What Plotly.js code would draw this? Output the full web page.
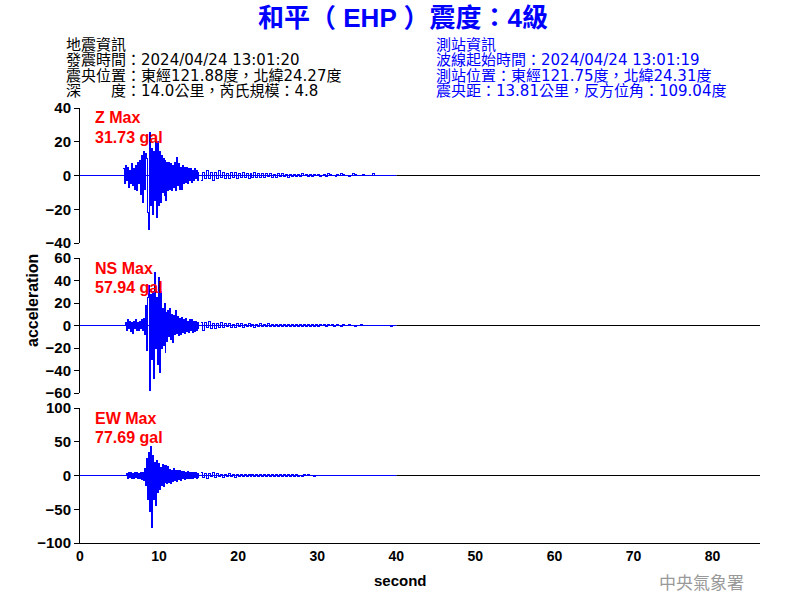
<!DOCTYPE html>
<html>
<head>
<meta charset="utf-8">
<script src="https://cdn.plot.ly/plotly-3.0.1.min.js"></script>
<style>
html,body{margin:0;padding:0;background:#fff;}
#chart{width:800px;height:600px;}
#chart .scatterlayer path.js-line{shape-rendering:crispEdges;}
</style>
</head>
<body>
<div id="chart"></div>
<script>
// ---- Data (gal) ----
const strongStart = 5.5, strongStep = 0.125;   // strong-motion part sampling
const codaStart = 15.25, codaStep = 0.25;      // coda part sampling
const recordEnd = 40;                           // end of recorded trace (s)

const zStrong = [4,-5,6,-3,5,-7,3,-5,7,-6,4,-8,6,-9,8,-5,9,-11,12,-16,14,-8,13,10,-22,-31.73,25.6,-18,16,-23,14,-15,22,-25,20,-18,14,-16,12,-10,10,-12,9,-15,8,-9,8,-8,7,-9,6,-7,8,-9,10.8,-6,7,-8,5,-8,6,-5,5,-4,5,-5,4,-3,4,-4,3,-3,4,-2,3,-3,2];
const zCoda = [-3,2,-2,3,-2,2,-3,2, -2,3,-1,2,-2,1,-2,2, -1,2,-2,1,-1,2,-1,1, -1.5,1,-1,1.5,-1,1,-1,1, -1,1,-0.5,1,-1,0.5,-1,1, -0.5,1,-0.5,0.5,-1,0.5,-0.5,0.5, -0.5,0.5,-0.5,1,0,0.5,-0.5,0.5, -0.5,0.5,0,0.5,-0.5,0,0.5,-0.5, 1,0.5,0,0,-0.5,0.5,0,1, 0.5,0,0,-0.5,0,1,0.5,0, 0,0,0.5,0,0,0,0,1, 0,0,0,0,0,0,0,0, 0,0,0,0];

const nsStrong = [0,0,3,-4,5,-3,4,-5,3,-7,4,-3,5,-4,3,-4,4,-3,5,-4,6,-8,18,-22,25,35.6,-57.94,28,-30,30,-47,46.8,-20,25,-35,43,-41.5,30,-20,15,-18,19.5,-24,12,-14,13,-10,15,-12,10,-15,9,-8,13,-7,8,-9,6,-8,7,-6,5,-7,6,-5,4,-6,5,-4,5,-6.5,4,-5,4,-4,3,-3];
const nsCoda = [3,-4,3,-2,4,-3,2,-3, 2,-2,3,-2,2,-1,2,-2, 1,-2,2,-1,1.5,-2,1,-1, 2,-1,1,-1.5,1,-1,1.5,-1, 1,-1,2,-1,1,-1,1,-1, 1,-0.5,1,-1,0.5,-1,1,-0.5, 1,-0.5,0.5,-1,1,-0.5,0.5,-0.5, 0.5,-0.5,1,-0.5,0.5,0,0.5,-0.5, 0.5,0,0.5,-0.5,0,0.5,0,-0.5, 0.5,0,0,0.5,0,0,-0.5,0, 0,0.5,0,0,0,0,0,0, 0,0,0,0,0,0,0,0, -1,0,0,0];

const ewStrong = [0,0,0,3,-5,4,-3,5,-4,3,-5,4,-3,5,-4,3,-5,4,-6,5,-8,10,-15,25,-35,34.6,-54,43,-77.69,30,-35,20,-44.5,22,-25,18,-20,12,-15,16,-17,15,-11,15,-12,14,-10,9,-12,8,-9,10,-8,7,-9,8,-6,7,-7,6,-5,6,-6,5,-4,6,-5,4,-5,4,-4,5,-3,4,-4,3,-3];
const ewCoda = [4,-3,3,-4,3,-2,4,-3, 3,-2,2,-3,2,-2,3,-2, 2,-3,2,-2,1,-2,2,-1, 2,-1,2,-2,1,-1,2,-1, 1,-2,1,-1,2,-1,1,-1, 1,-1,1,-1,1,-1,2,-1, 1,-1,0.5,-1,1,-0.5,1,-0.5, 0.5,-1,0.5,-0.5,0.5,-0.5,0.5,0, 0.5,-0.5,0,0.5,0,-0.5,0,0, 0,0.5,0,0,-0.5,0,0,0, 0,0,0,0,0,0,0,0, 0,0,0,0,0,0,0,0, 0,0,0,0];

const components = ['Z', 'NS', 'EW'];
const maxLabels = ['31.73 gal', '57.94 gal', '77.69 gal'];
const yRanges = [[-40, 40], [-60, 60], [-100, 100]];
const yDticks = [20, 20, 50];
const xTickVals = [0, 10, 20, 30, 40, 50, 60, 70, 80];

const titleText = '和平（ EHP ）震度：4級';
const quakeInfo = ['地震資訊', '發震時間：2024/04/24 13:01:20', '震央位置：東經121.88度，北緯24.27度', '深　　度：14.0公里，芮氏規模：4.8'];
const stationInfo = ['測站資訊', '波線起始時間：2024/04/24 13:01:19', '測站位置：東經121.75度，北緯24.31度', '震央距：13.81公里，反方位角：109.04度'];
const footer = '中央氣象署';

// ---- Layout helpers ----
const W = 800, H = 600, L = 80, R = 40, T = 108, B = 57;
const pw = W - L - R, ph = H - T - B;
const px2x = p => (p - L) / pw;
const py2y = p => (H - B - p) / ph;

const BLUE = '#0000ff';
const strongSets = [zStrong, nsStrong, ewStrong];
const codaSets = [zCoda, nsCoda, ewCoda];
const yNames = ['y', 'y2', 'y3'];
const domains = [[py2y(243), 1], [py2y(393), py2y(258)], [0, py2y(408)]];

const traces = [];
const shapes = [];
const annotations = [];
const layout = {
  width: W, height: H,
  margin: {l: L, r: R, t: T, b: B, pad: 0},
  paper_bgcolor: '#fff', plot_bgcolor: '#fff',
  showlegend: false,
  font: {family: 'Liberation Sans, Arial, sans-serif', color: '#000'},
  title: {
    text: titleText, x: 403 / W, xref: 'container', xanchor: 'center', y: 1 - 18 / H, yref: 'container', yanchor: 'middle',
    font: {family: 'Liberation Sans, Noto Sans CJK TC, sans-serif', size: 26, color: BLUE, weight: 'bold'}
  },
  xaxis: {
    range: [0, 86], anchor: 'y3', showline: true, linecolor: '#000', linewidth: 1,
    ticks: '', tickvals: xTickVals, showgrid: false, zeroline: false,
    tickfont: {size: 14, weight: 'bold', color: '#000'}
  },
  shapes: shapes, annotations: annotations
};

components.forEach((c, i) => {
  const yref = yNames[i];
  traces.push({type: 'scatter', mode: 'lines', x0: strongStart, dx: strongStep, y: strongSets[i],
    xaxis: 'x', yaxis: yref, line: {color: BLUE, width: 1, shape: 'hv'}, hoverinfo: 'skip'});
  traces.push({type: 'scatter', mode: 'lines', x0: codaStart, dx: codaStep, y: codaSets[i],
    xaxis: 'x', yaxis: yref, line: {color: BLUE, width: 1, shape: 'hv'}, hoverinfo: 'skip'});
  const axKey = i === 0 ? 'yaxis' : 'yaxis' + (i + 1);
  layout[axKey] = {
    domain: domains[i], range: yRanges[i], dtick: yDticks[i], anchor: 'x',
    showline: true, linecolor: '#000', linewidth: 1, ticks: 'outside', ticklen: 5, tickcolor: '#000',
    showgrid: false, zeroline: false, tickfont: {size: 15, weight: 'bold', color: '#000'}
  };
  shapes.push({type: 'line', xref: 'x', yref: yref, x0: recordEnd, x1: 86, y0: 0, y1: 0, layer: 'below', line: {color: '#000', width: 1}});
  shapes.push({type: 'line', xref: 'x', yref: yref, x0: 0, x1: recordEnd, y0: 0, y1: 0, layer: 'below', line: {color: BLUE, width: 1}});
  const topPx = [108, 258, 408][i];
  annotations.push({xref: 'paper', yref: 'paper', x: px2x(93), y: py2y(topPx + 10), xanchor: 'left', yanchor: 'middle', showarrow: false,
    text: c + ' Max', font: {size: 16, color: '#ff0000', weight: 'bold'}});
  annotations.push({xref: 'paper', yref: 'paper', x: px2x(93), y: py2y(topPx + 29), xanchor: 'left', yanchor: 'middle', showarrow: false,
    text: maxLabels[i], font: {size: 16, color: '#ff0000', weight: 'bold'}});
});

const lineY = [45, 60.5, 75.5, 90.5];
const hdrFont = 'DejaVu Sans, Noto Sans CJK TC, sans-serif';
quakeInfo.forEach((t, k) => annotations.push({xref: 'paper', yref: 'paper', x: px2x(64), y: py2y(lineY[k]), xanchor: 'left', yanchor: 'middle', showarrow: false,
  text: t, font: {family: hdrFont, size: 15, color: '#000'}}));
stationInfo.forEach((t, k) => annotations.push({xref: 'paper', yref: 'paper', x: px2x(434), y: py2y(lineY[k]), xanchor: 'left', yanchor: 'middle', showarrow: false,
  text: t, font: {family: hdrFont, size: 15, color: BLUE}}));

annotations.push({xref: 'paper', yref: 'paper', x: px2x(32), y: py2y(301), xanchor: 'center', yanchor: 'middle', showarrow: false, textangle: -90,
  text: 'acceleration', font: {size: 16, weight: 'bold', color: '#000'}});
annotations.push({xref: 'paper', yref: 'paper', x: px2x(400), y: py2y(580), xanchor: 'center', yanchor: 'middle', showarrow: false,
  text: 'second', font: {size: 15, weight: 'bold', color: '#000'}});
annotations.push({xref: 'paper', yref: 'paper', x: px2x(701), y: py2y(581), xanchor: 'center', yanchor: 'middle', showarrow: false,
  text: footer, font: {family: 'Noto Sans CJK TC, sans-serif', size: 17, color: '#999999'}});

Plotly.newPlot('chart', traces, layout, {staticPlot: true, displayModeBar: false});
</script>
</body>
</html>
